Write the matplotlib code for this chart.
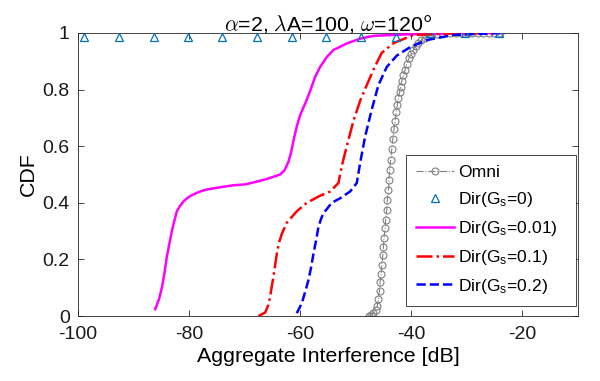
import matplotlib
matplotlib.use("Agg")
import matplotlib.pyplot as plt

plt.rcParams['font.family'] = ['Liberation Sans', 'DejaVu Sans']
plt.rcParams['mathtext.fontset'] = 'custom'
plt.rcParams['mathtext.rm'] = 'Liberation Sans'
plt.rcParams['mathtext.it'] = 'Liberation Sans:italic'
plt.rcParams['mathtext.bf'] = 'Liberation Sans:bold'
plt.rcParams['axes.unicode_minus'] = False

# ---- data ----
omni_x = [-47.6, -47.2, -46.8, -46.4, -46.1, -45.9, -45.7, -45.6, -45.4, -45.3,
          -45.1, -45.0, -44.9, -44.7, -44.6, -44.4, -44.3, -44.1, -44.0, -43.9,
          -43.7, -43.5, -43.3, -43.1, -42.9, -42.7, -42.5, -42.3, -42.1, -41.9,
          -41.7, -41.4, -41.1, -40.8, -40.4, -40.0, -39.6, -39.2, -38.7, -38.2,
          -37.6, -37.0, -36.2, -35.4, -34.4, -33.0, -32.0, -31.0, -30.0, -29.0,
          -28.0, -27.0, -26.0, -25.0, -24.0]
omni_y = [0.0, 0.005, 0.01, 0.02, 0.035, 0.06, 0.09, 0.12, 0.15, 0.18,
          0.215, 0.245, 0.275, 0.31, 0.34, 0.375, 0.41, 0.445, 0.48, 0.515,
          0.55, 0.59, 0.625, 0.66, 0.69, 0.72, 0.745, 0.77, 0.79, 0.81,
          0.83, 0.85, 0.87, 0.89, 0.91, 0.925, 0.94, 0.953, 0.965, 0.975,
          0.983, 0.99, 0.994, 0.997, 0.999, 1.0, 1.0, 1.0, 1.0, 1.0,
          1.0, 1.0, 1.0, 1.0, 1.0]

dir0_x = [-98.9, -92.7, -86.4, -80.2, -74.0, -67.7, -61.5, -55.3, -49.0, -42.8,
          -36.6, -30.3, -24.1]
dir0_y = [0.985, 0.985, 0.985, 0.985, 0.985, 0.985, 0.985, 0.985, 0.985, 0.985,
          1.0, 1.0, 1.0]

g001_x = [-86.1, -85.4, -84.9, -84.4, -84.0, -83.5, -83.1, -82.6, -82.2, -81.6,
          -81.0, -80.1, -79.2, -78.0, -76.8, -74.4, -72.0, -69.9, -68.4, -66.0,
          -63.6, -62.8, -62.1, -61.6, -61.2, -60.6, -60.0, -59.0, -58.2, -57.3,
          -56.4, -55.2, -54.0, -51.6, -49.2, -46.8, -43.2, -39.6, -32.0, -24.0]
g001_y = [0.024, 0.06, 0.10, 0.155, 0.21, 0.26, 0.30, 0.34, 0.37, 0.39,
          0.405, 0.42, 0.43, 0.44, 0.447, 0.455, 0.462, 0.465, 0.472, 0.484,
          0.50, 0.515, 0.545, 0.58, 0.62, 0.67, 0.71, 0.755, 0.795, 0.845,
          0.88, 0.915, 0.94, 0.963, 0.98, 0.99, 0.993, 0.996, 0.999, 1.0]

g01_x = [-67.5, -66.3, -65.7, -65.4, -65.1, -64.8, -64.5, -64.2, -63.8, -63.3,
         -62.4, -61.5, -60.6, -58.8, -56.4, -54.6, -53.1, -52.5, -51.6, -50.4,
         -49.2, -48.0, -46.8, -45.3, -43.2, -39.6, -32.4, -24.0]
g01_y = [0.0, 0.012, 0.04, 0.07, 0.105, 0.14, 0.18, 0.22, 0.26, 0.29,
         0.33, 0.35, 0.37, 0.40, 0.425, 0.44, 0.47, 0.53, 0.60, 0.69,
         0.76, 0.816, 0.87, 0.93, 0.964, 0.993, 0.999, 1.0]

g02_x = [-60.6, -59.7, -59.1, -58.5, -58.0, -57.6, -57.1, -56.7, -56.2, -55.8,
         -54.3, -52.8, -51.0, -49.8, -49.2, -48.3, -47.1, -45.9, -44.4, -42.6,
         -40.2, -37.2, -32.4, -24.0]
g02_y = [0.01, 0.045, 0.085, 0.127, 0.175, 0.22, 0.27, 0.315, 0.345, 0.363,
         0.40, 0.416, 0.44, 0.47, 0.54, 0.634, 0.73, 0.816, 0.88, 0.92,
         0.95, 0.975, 0.993, 1.0]

labels = ['Omni', 'Dir(G$_\\mathrm{s}$=0)', 'Dir(G$_\\mathrm{s}$=0.01)',
          'Dir(G$_\\mathrm{s}$=0.1)', 'Dir(G$_\\mathrm{s}$=0.2)']
xticks = [-100, -80, -60, -40, -20]
yticks = [0, 0.2, 0.4, 0.6, 0.8, 1]
yticklabels = ['0', '0.2', '0.4', '0.6', '0.8', '1']

fig = plt.figure(figsize=(6, 3.81), dpi=100)
ax = fig.add_axes([0.13, 0.1706, 0.833, 0.7428])

gray = (0.5, 0.5, 0.5)
ax.plot(omni_x, omni_y, linestyle='-.', color=gray, lw=0.8, marker='o',
        markersize=5, markerfacecolor='none', markeredgecolor=gray,
        markeredgewidth=0.8, label=labels[0], zorder=2)
ax.plot(dir0_x, dir0_y, linestyle='none', marker='^', markersize=6,
        markerfacecolor='none', markeredgecolor=(0, 0.447, 0.741),
        markeredgewidth=0.9, label=labels[1], zorder=5)
ax.plot(g001_x, g001_y, '-', color='magenta', lw=1.8, label=labels[2], zorder=3)
ax.plot(g01_x, g01_y, '-.', color='red', lw=1.8, label=labels[3], zorder=3)
ax.plot(g02_x, g02_y, '--', color='blue', lw=1.8, label=labels[4], zorder=3)

ax.set_xlim(-100, -10)
ax.set_ylim(0, 1)
ax.set_xticks(xticks)
ax.set_yticks(yticks)
ax.set_yticklabels(yticklabels)
ax.tick_params(direction='in', top=True, right=True, length=4, width=0.6,
               labelsize=14, colors=(0.15, 0.15, 0.15), labelcolor=(0.1, 0.1, 0.1))
ax.tick_params(axis='x', pad=7)
ax.tick_params(axis='y', pad=6)
for s in ax.spines.values():
    s.set_color((0.15, 0.15, 0.15))
    s.set_linewidth(0.6)

ax.set_xlabel('Aggregate Interference [dB]', fontsize=15.4, labelpad=3)
ax.set_ylabel('CDF', fontsize=15.4, labelpad=3)
ax.set_title(r'$\alpha$=2, $\lambda$A=100, $\omega$=120$^{\mathsf{o}}$',
             fontsize=15.4, pad=2, math_fontfamily='cm')

leg = ax.legend(loc='lower left', bbox_to_anchor=(0.656, 0.0353, 0.34, 0.5),
                mode='expand', borderaxespad=0, fontsize=12.6, handlelength=2.15,
                handletextpad=0.25, labelspacing=0.56, borderpad=0.6,
                fancybox=False, framealpha=1, numpoints=1)
leg.get_frame().set_edgecolor((0.15, 0.15, 0.15))
leg.get_frame().set_linewidth(0.6)

fig.savefig('out.png', dpi=100)
